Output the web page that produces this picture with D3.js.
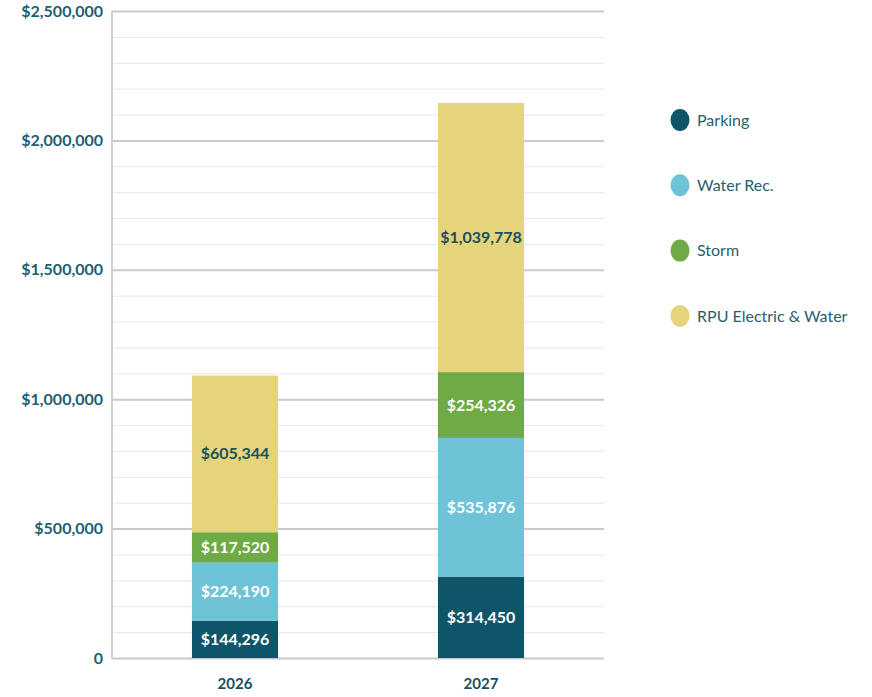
<!DOCTYPE html>
<html><head><meta charset="utf-8">
<script src="https://cdn.jsdelivr.net/npm/d3@7"></script>
<style>body{margin:0;background:#fff;} svg{display:block;}</style>
</head><body>
<svg id="c" width="872" height="697"></svg>
<script>
const years = ["2026", "2027"];
const seriesNames = ["Parking", "Water Rec.", "Storm", "RPU Electric & Water"];
const parking = [144296, 314450];
const waterRec = [224190, 535876];
const storm = [117520, 254326];
const rpu = [605344, 1039778];
const yTicks = [0, 500000, 1000000, 1500000, 2000000, 2500000];
const yTickLabels = ["0", "$500,000", "$1,000,000", "$1,500,000", "$2,000,000", "$2,500,000"];

const colors = ["#0f5569", "#6fc3d7", "#6eaa45", "#e5d47b"];
const labelColors = ["#ffffff", "#ffffff", "#ffffff", "#1a4f5f"];
const font = "Lato, 'Open Sans', sans-serif";

const svg = d3.select("#c");
const m = {left: 112, right: 604, top: 11, bottom: 658};
const x = d3.scaleBand().domain(years).range([m.left, m.right]).paddingInner(0.65).paddingOuter(0.325);
const y = d3.scaleLinear().domain([0, 2500000]).range([m.bottom, m.top]);

const rows = years.map((yr, i) => ({year: yr, s0: parking[i], s1: waterRec[i], s2: storm[i], s3: rpu[i]}));
const stack = d3.stack().keys(["s0", "s1", "s2", "s3"])(rows);

// gridlines
const minor = d3.range(0, 2500001, 100000);
svg.append("g").selectAll("line").data(minor).join("line")
  .attr("x1", m.left).attr("x2", m.right)
  .attr("y1", d => y(d) + 0.5).attr("y2", d => y(d) + 0.5)
  .attr("stroke", d => d % 500000 === 0 ? "#c9c9c9" : "#e6e6e6")
  .attr("stroke-width", d => d % 500000 === 0 ? 2 : 1);

// y axis line
svg.append("line").attr("x1", m.left).attr("x2", m.left).attr("y1", m.top).attr("y2", m.bottom + 1)
  .attr("stroke", "#cfcfcf").attr("stroke-width", 2);

// y axis labels
const yAxis = d3.axisLeft(y).tickValues(yTicks).tickFormat((d, i) => yTickLabels[i]).tickSize(0).tickPadding(9);
const gy = svg.append("g").attr("transform", `translate(${m.left},0)`).call(yAxis);
gy.select(".domain").remove();
gy.selectAll("text").attr("font-family", font).attr("font-weight", "bold").attr("font-size", 16)
  .attr("fill", "#1b5f72").attr("dy", "0.32em");

// x axis labels
const xAxis = d3.axisBottom(x).tickSize(0).tickPadding(20);
const gx = svg.append("g").attr("transform", `translate(0,${m.bottom})`).call(xAxis);
gx.select(".domain").remove();
gx.selectAll("text").attr("font-family", font).attr("font-weight", "bold").attr("font-size", 15)
  .attr("fill", "#174f60");

// bars
stack.forEach((layer, k) => {
  const g = svg.append("g");
  g.selectAll("rect").data(layer).join("rect")
    .attr("x", d => x(d.data.year)).attr("width", x.bandwidth())
    .attr("y", d => y(d[1])).attr("height", d => y(d[0]) - y(d[1]))
    .attr("fill", colors[k]);
  g.selectAll("text").data(layer).join("text")
    .attr("x", d => x(d.data.year) + x.bandwidth() / 2)
    .attr("y", d => (y(d[0]) + y(d[1])) / 2)
    .attr("dy", "0.35em").attr("text-anchor", "middle")
    .attr("font-family", font).attr("font-weight", "bold").attr("font-size", 16)
    .attr("fill", labelColors[k])
    .text(d => d3.format("$,")(d[1] - d[0]));
});

// legend
const lg = svg.append("g");
seriesNames.forEach((name, i) => {
  const ly = 120 + i * 65.3;
  lg.append("ellipse").attr("cx", 680).attr("cy", ly).attr("rx", 9.5).attr("ry", 11).attr("fill", colors[i]);
  lg.append("text").attr("x", 697).attr("y", ly).attr("dy", "0.35em")
    .attr("font-family", font).attr("font-size", 16).attr("fill", "#2a5e6d").text(name);
});
</script>
</body></html>
